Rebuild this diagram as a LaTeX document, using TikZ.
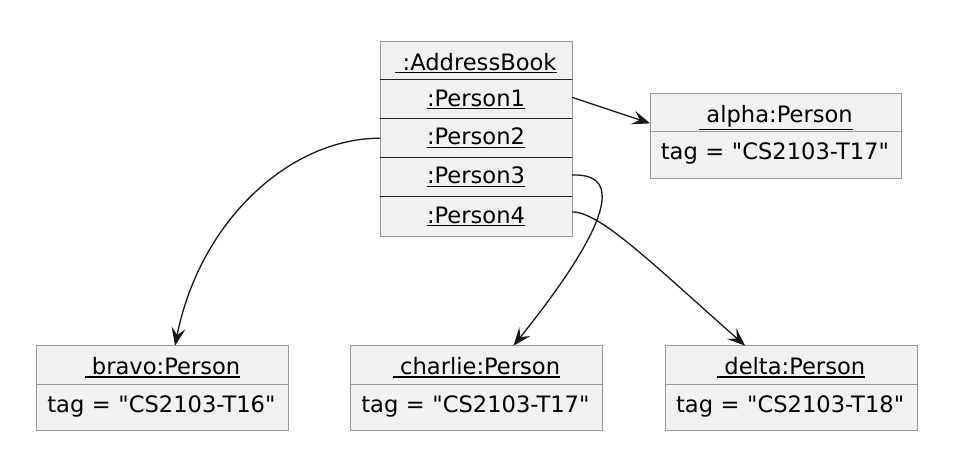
\documentclass[tikz,border=0pt]{standalone}
\usepackage{fontspec}
\newfontfamily\dvs{DejaVu Sans}
\usetikzlibrary{arrows.meta}
\definecolor{boxfill}{HTML}{F1F1F1}
\definecolor{boxline}{HTML}{999999}
\definecolor{sepline}{HTML}{222222}
\definecolor{linkcol}{HTML}{181818}
\newcommand\objul[1]{\setbox0=\hbox{#1}\dimen0=\dp0 \advance\dimen0 by 3pt\rlap{\raisebox{-\dimen0}{\rule{\wd0}{1.4pt}}}\box0}
\begin{document}
\begin{tikzpicture}[x=1pt,y=-1pt,
 txt/.style={font=\dvs\fontsize{22.6}{27}\selectfont, inner sep=0pt, outer sep=0pt, text=black},
 abrow/.style={txt, fill=boxfill, minimum width=192pt, minimum height=39.25pt, text height=13.4pt, text depth=0pt},
 abhd/.style={txt, fill=boxfill, minimum width=192pt, minimum height=38pt, text height=19pt, text depth=0pt},
 ohead/.style={txt, fill=boxfill, draw=boxline, line width=1pt, minimum width=251.7pt, minimum height=38.3pt, text height=19.2pt, text depth=0pt},
 oattr/.style={txt, fill=boxfill, draw=boxline, line width=1pt, minimum width=251.7pt, minimum height=46.6pt, text width=230.3pt, align=left, text height=15.4pt, text depth=6pt},
 link/.style={draw=linkcol, line width=1.3pt, -{Stealth[length=18pt,width=14pt,inset=7pt]}}
]
\useasboundingbox (0,0) rectangle (978,456);
% AddressBook
\node[abhd] (abhead) at (476,60.5) {\objul{\ :AddressBook}};
\node[abrow] (p1) at (476,99.3) {\objul{:Person1}};
\node[abrow] (p2) at (476,138.2) {\objul{:Person2}};
\node[abrow] (p3) at (476,177.1) {\objul{:Person3}};
\node[abrow] (p4) at (476,216.4) {\objul{:Person4}};
\draw[boxline, line width=1pt] (abhead.north west) rectangle (p4.south east);
\foreach \r in {abhead,p1,p2,p3}
  \draw[sepline, line width=1pt] (\r.south west) -- (\r.south east);
% alpha
\node[ohead] (ahead) at (776,112.85) {\objul{\ alpha:Person}};
\node[oattr] (aattr) at (776,155) {\mbox{tag = "CS2103-T17"}};
% bravo
\node[ohead] (bhead) at (162.5,364.85) {\objul{\ bravo:Person}};
\node[oattr] (battr) at (162.5,407.3) {\mbox{tag = "CS2103-T16"}};
% charlie
\node[ohead] (chead) at (476.5,364.85) {\objul{\ charlie:Person}};
\node[oattr] (cattr) at (476.5,407.3) {\mbox{tag = "CS2103-T17"}};
% delta
\node[ohead] (dhead) at (791.2,364.85) {\objul{\ delta:Person}};
\node[oattr] (dattr) at (791.2,407.3) {\mbox{tag = "CS2103-T18"}};
% links
\draw[link] ([yshift=2pt]p1.east) -- ([yshift=-10.5pt]ahead.west);
\draw[link] (p2.west) .. controls +(-90,0) and +(25,-125) .. ([xshift=12.5pt]bhead.north);
\draw[link] ([yshift=2pt]p3.east) .. controls +(63,-3) and +(77,-96) .. ([xshift=37pt]chead.north);
\draw[link] ([yshift=4.5pt]p4.east) .. controls +(28,0) and +(-95,-84) .. ([xshift=-46pt]dhead.north);
\end{tikzpicture}
\end{document}
